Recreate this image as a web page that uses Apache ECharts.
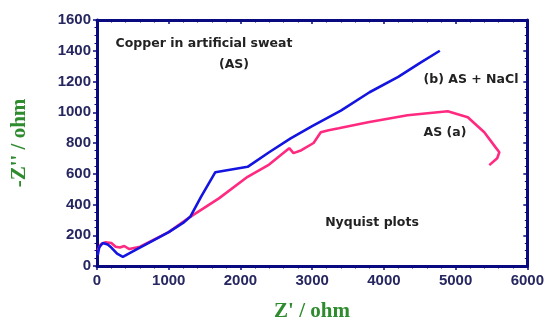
<!DOCTYPE html>
<html><head><meta charset="utf-8">
<script src="https://cdn.jsdelivr.net/npm/echarts@6/dist/echarts.min.js"></script>
<style>html,body{margin:0;padding:0;background:#fff}#c{width:547px;height:324px}</style>
</head><body><div id="c"></div>
<script>
// Series (b) AS + NaCl : Z' (ohm), -Z'' (ohm)
const blueZre = [10, 30, 80, 150, 200, 280, 360, 500, 800, 1000, 1200, 1300, 1450, 1650, 2100, 2400, 2700, 3000, 3400, 3800, 4200, 4500, 4780];
const blueZim = [70, 120, 150, 140, 120, 80, 60, 95, 170, 220, 280, 320, 450, 610, 645, 740, 830, 910, 1010, 1130, 1230, 1320, 1400];
// Series AS (a)
const pinkZre = [10, 50, 120, 200, 260, 320, 380, 450, 600, 1000, 1300, 1700, 2100, 2400, 2680, 2740, 2850, 3020, 3120, 3230, 3370, 3780, 4330, 4890, 5170, 5400, 5555, 5610, 5580, 5470];
const pinkZim = [100, 140, 155, 150, 125, 120, 130, 110, 125, 220, 320, 440, 580, 660, 766, 734, 753, 800, 870, 883, 896, 935, 981, 1006, 968, 870, 773, 740, 701, 656];
const xTicks = [0, 1000, 2000, 3000, 4000, 5000, 6000];
const yTicks = [0, 200, 400, 600, 800, 1000, 1200, 1400, 1600];

const pair = (xs, ys) => xs.map((x, i) => [x, ys[i]]);
const axisCol = '#0a0a80';
const lblCol = '#262660';
const annFont = 'bold 12.5px DejaVu Sans, Verdana, sans-serif';
const titleFont = 'bold 21px Liberation Serif, Times New Roman, serif';
const chart = echarts.init(document.getElementById('c'), null, {renderer: 'canvas'});
const baseAxis = {
  type: 'value',
  axisLine: {show: true, onZero: false, lineStyle: {color: axisCol, width: 3}},
  axisTick: {show: true, inside: false, length: 4, lineStyle: {color: axisCol, width: 1.5}},
  minorTick: {show: true, splitNumber: 5, length: 2.5, lineStyle: {color: axisCol, width: 1}},
  splitLine: {show: false}
};
const lbl = {color: lblCol, fontFamily: 'Liberation Sans, Arial', fontWeight: 'bold', fontSize: 15, formatter: v => String(v)};
chart.setOption({
  backgroundColor: '#ffffff',
  animation: false,
  grid: {left: 97, right: 17, top: 20, bottom: 58},
  xAxis: [
    Object.assign({}, baseAxis, {
      min: xTicks[0], max: xTicks[xTicks.length - 1], interval: 1000, position: 'bottom',
      axisLabel: Object.assign({}, lbl, {margin: 7})
    }),
    Object.assign({}, baseAxis, {
      min: xTicks[0], max: xTicks[xTicks.length - 1], interval: 1000, position: 'top',
      axisTick: {show: true, inside: true, length: 4, lineStyle: {color: axisCol, width: 1.5}},
      minorTick: {show: true, splitNumber: 5, length: 2.5, lineStyle: {color: axisCol, width: 1}},
      axisLabel: {show: false}
    })
  ],
  yAxis: [
    Object.assign({}, baseAxis, {
      min: yTicks[0], max: yTicks[yTicks.length - 1], interval: 200, position: 'left',
      minorTick: {show: true, splitNumber: 4, length: 2.5, lineStyle: {color: axisCol, width: 1}},
      axisLabel: Object.assign({}, lbl, {margin: 6})
    }),
    Object.assign({}, baseAxis, {
      min: yTicks[0], max: yTicks[yTicks.length - 1], interval: 200, position: 'right',
      axisTick: {show: true, inside: true, length: 4, lineStyle: {color: axisCol, width: 1.5}},
      minorTick: {show: true, splitNumber: 4, length: 2.5, lineStyle: {color: axisCol, width: 1}},
      axisLabel: {show: false}
    })
  ],
  series: [
    {type: 'line', data: pair(pinkZre, pinkZim), showSymbol: false, smooth: false,
     lineStyle: {color: '#ff2a80', width: 2.6}, z: 3},
    {type: 'line', data: pair(blueZre, blueZim), showSymbol: false, smooth: false,
     lineStyle: {color: '#1414e0', width: 2.6}, z: 4}
  ],
  graphic: [
    {type: 'text', x: 204, y: 44, style: {text: 'Copper in artificial sweat', fill: '#222', font: annFont, align: 'center', verticalAlign: 'middle'}},
    {type: 'text', x: 234, y: 65, style: {text: '(AS)', fill: '#222', font: annFont, align: 'center', verticalAlign: 'middle'}},
    {type: 'text', x: 471, y: 80, style: {text: '(b) AS + NaCl', fill: '#222', font: annFont, align: 'center', verticalAlign: 'middle'}},
    {type: 'text', x: 445, y: 133, style: {text: 'AS (a)', fill: '#222', font: annFont, align: 'center', verticalAlign: 'middle'}},
    {type: 'text', x: 372, y: 223, style: {text: 'Nyquist plots', fill: '#222', font: annFont, align: 'center', verticalAlign: 'middle'}},
    {type: 'text', x: 312, y: 312, style: {text: "Z' / ohm", fill: '#2e8b2e', font: titleFont, align: 'center', verticalAlign: 'middle'}},
    {type: 'text', x: 20, y: 143, rotation: Math.PI / 2, style: {text: "-Z'' / ohm", fill: '#2e8b2e', font: titleFont, align: 'center', verticalAlign: 'middle'}}
  ]
});
</script></body></html>
